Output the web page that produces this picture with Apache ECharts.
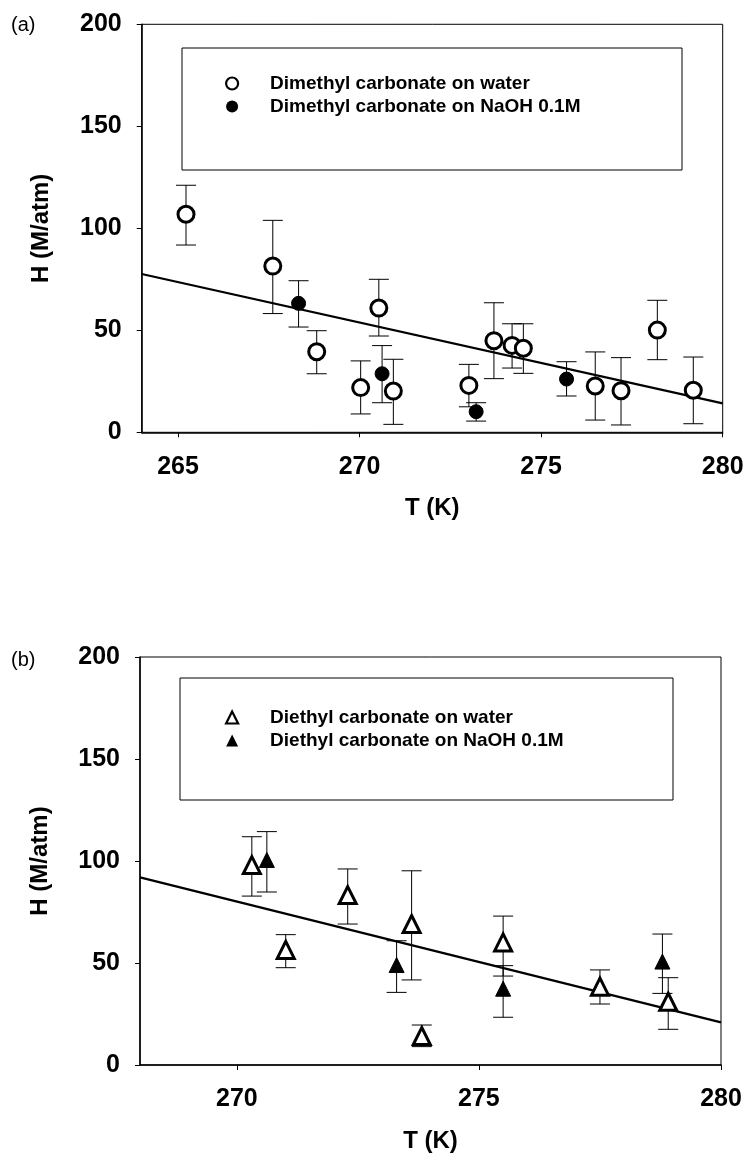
<!DOCTYPE html>
<html><head><meta charset="utf-8">
<script src="https://cdn.jsdelivr.net/npm/echarts@6/dist/echarts.min.js"></script>
<style>html,body{margin:0;padding:0;background:#fff}#c{width:750px;height:1159px}</style>
</head><body><div id="c"></div>
<script>
// ---------- Panel (a): Dimethyl carbonate ----------
const dmcWaterT    = [265.22, 267.61, 268.82, 270.03, 270.53, 270.93, 273.01, 273.70, 274.20, 274.51, 276.49, 277.20, 278.20, 279.19];
const dmcWaterH    = [106.9, 81.5, 39.5, 21.9, 60.9, 20.2, 23.0, 44.9, 42.6, 41.2, 22.7, 20.4, 50.1, 20.6];
const dmcWaterLow  = [91.8, 58.2, 28.7, 9.0, 47.2, 3.9, 12.5, 26.3, 31.5, 28.9, 6.0, 3.6, 35.6, 4.2];
const dmcWaterHigh = [121.1, 103.9, 49.8, 35.0, 75.0, 35.8, 33.3, 63.5, 53.2, 53.2, 39.4, 36.6, 64.7, 36.9];
const dmcNaohT     = [268.32, 270.62, 273.21, 275.70];
const dmcNaohH     = [63.2, 28.7, 10.1, 26.1];
const dmcNaohLow   = [51.6, 14.5, 5.5, 17.8];
const dmcNaohHigh  = [74.3, 42.5, 14.5, 34.6];
const fitAT = [264, 280];
const fitAH = [77.6, 14.2];
// ---------- Panel (b): Diethyl carbonate ----------
const decWaterT    = [270.31, 271.01, 272.29, 273.61, 273.82, 275.50, 277.50, 278.91];
const decWaterH    = [98.0, 56.4, 83.3, 69.1, 14.2, 60.1, 38.4, 31.0];
const decWaterLow  = [82.8, 47.7, 69.1, 41.7, 9.0, 43.6, 29.9, 17.5];
const decWaterHigh = [111.9, 63.9, 96.1, 95.2, 19.6, 73.0, 46.6, 42.8];
const decNaohT     = [270.62, 273.30, 275.50, 278.79];
const decNaohH     = [100.5, 49.0, 37.4, 50.7];
const decNaohLow   = [84.8, 35.6, 23.4, 35.1];
const decNaohHigh  = [114.4, 60.9, 48.7, 64.2];
const fitBT = [268, 280];
const fitBH = [92.0, 20.9];
// ---------- Axes ----------
const yTicks  = [0, 50, 100, 150, 200];
const xTicksA = [265, 270, 275, 280];
const xTicksB = [270, 275, 280];
const namesA = ['Dimethyl carbonate on water', 'Dimethyl carbonate on NaOH 0.1M'];
const namesB = ['Diethyl carbonate on water', 'Diethyl carbonate on NaOH 0.1M'];

const FONT = "'Liberation Sans Narrow', 'Liberation Sans', Arial, sans-serif";
const zip2 = (a, b) => a.map((v, i) => [v, b[i]]);
const zip3 = (a, b, c) => a.map((v, i) => [v, b[i], c[i]]);

function errRender(params, api) {
  const x = api.value(0), lo = api.value(1), hi = api.value(2);
  const pLo = api.coord([x, lo]), pHi = api.coord([x, hi]);
  const w = 10;
  const style = { stroke: '#000', lineWidth: 1 };
  return { type: 'group', children: [
    { type: 'line', shape: { x1: pLo[0], y1: pLo[1], x2: pHi[0], y2: pHi[1] }, style },
    { type: 'line', shape: { x1: pLo[0] - w, y1: pLo[1], x2: pLo[0] + w, y2: pLo[1] }, style },
    { type: 'line', shape: { x1: pHi[0] - w, y1: pHi[1], x2: pHi[0] + w, y2: pHi[1] }, style }
  ]};
}

function xAxis(idx, min, ticks) {
  return {
    type: 'value', gridIndex: idx, min: min, max: 280,
    axisLine: { show: true, lineStyle: { color: '#000', width: 1.5 } },
    axisTick: { show: true, inside: false, length: 5, customValues: ticks, lineStyle: { color: '#000', width: 1 } },
    axisLabel: { customValues: ticks, margin: 22, color: '#000', fontSize: 25, fontWeight: 'bold', fontFamily: FONT },
    splitLine: { show: false },
    name: 'T (K)', nameLocation: 'middle', nameGap: 64,
    nameTextStyle: { color: '#000', fontSize: 24, fontWeight: 'bold', fontFamily: FONT }
  };
}
function yAxis(idx) {
  return {
    type: 'value', gridIndex: idx, min: 0, max: 200, interval: 50,
    axisLine: { show: true, lineStyle: { color: '#000', width: 1.5 } },
    axisTick: { show: true, inside: false, length: 5, lineStyle: { color: '#000', width: 1 } },
    axisLabel: { margin: 20, color: '#000', fontSize: 25, fontWeight: 'bold', fontFamily: FONT },
    splitLine: { show: false },
    name: 'H (M/atm)', nameLocation: 'middle', nameGap: 88,
    nameTextStyle: { color: '#000', fontSize: 24, fontWeight: 'bold', fontFamily: FONT }
  };
}
function errSeries(name, idx, T, lo, hi) {
  return { type: 'custom', name: name, xAxisIndex: idx, yAxisIndex: idx, renderItem: errRender,
    data: zip3(T, lo, hi), z: 2, silent: true, clip: false };
}
function scatter(name, idx, T, H, symbol, size, filled) {
  return { type: 'scatter', name: name, xAxisIndex: idx, yAxisIndex: idx, symbol: symbol, symbolSize: size,
    data: zip2(T, H), z: 4,
    itemStyle: filled ? { color: '#000', borderColor: '#000', borderWidth: 1, opacity: 1 }
                      : { color: '#fff', borderColor: '#000', borderWidth: 3, opacity: 1 } };
}
function fit(idx, T, H) {
  return { type: 'line', xAxisIndex: idx, yAxisIndex: idx, data: zip2(T, H), symbol: 'none', z: 3,
    lineStyle: { color: '#000', width: 2.2 }, silent: true };
}
function legend(names, top, symbols) {
  return {
    orient: 'vertical', left: 220, top: top, itemGap: 4, itemWidth: 12, itemHeight: 12,
    data: [
      { name: names[0], icon: symbols[0], itemStyle: { color: '#fff', borderColor: '#000', borderWidth: 2.2 } },
      { name: names[1], icon: symbols[1], itemStyle: { color: '#000', borderColor: '#000', borderWidth: 0 } }
    ],
    textStyle: { color: '#000', fontSize: 19, fontWeight: 'bold', fontFamily: FONT, padding: [0, 0, 0, 27] },
    selectedMode: false
  };
}

const chart = echarts.init(document.getElementById('c'), null, { renderer: 'canvas' });
chart.setOption({
  animation: false,
  backgroundColor: '#fff',
  title: [
    { text: '(a)', left: 6, top: 10, textStyle: { fontSize: 20, fontWeight: 'normal', color: '#000', fontFamily: "'Liberation Sans', Arial" } },
    { text: '(b)', left: 6, top: 645, textStyle: { fontSize: 20, fontWeight: 'normal', color: '#000', fontFamily: "'Liberation Sans', Arial" } }
  ],
  grid: [
    { left: 141.7, top: 24.3, width: 581, height: 408, show: true, borderColor: '#000', borderWidth: 1, backgroundColor: 'transparent' },
    { left: 140, top: 657, width: 581, height: 408, show: true, borderColor: '#000', borderWidth: 1, backgroundColor: 'transparent' }
  ],
  xAxis: [xAxis(0, 264, xTicksA), xAxis(1, 268, xTicksB)],
  yAxis: [yAxis(0), yAxis(1)],
  legend: [legend(namesA, 69, ['circle', 'circle']), legend(namesB, 703, ['triangle', 'triangle'])],
  graphic: [
    { type: 'rect', shape: { x: 182, y: 48, width: 500, height: 122 }, style: { fill: 'none', stroke: '#000', lineWidth: 1 }, z: 1 },
    { type: 'rect', shape: { x: 180, y: 678, width: 493, height: 122 }, style: { fill: 'none', stroke: '#000', lineWidth: 1 }, z: 1 }
  ],
  series: [
    errSeries(namesA[0], 0, dmcWaterT, dmcWaterLow, dmcWaterHigh),
    errSeries(namesA[1], 0, dmcNaohT, dmcNaohLow, dmcNaohHigh),
    fit(0, fitAT, fitAH),
    scatter(namesA[0], 0, dmcWaterT, dmcWaterH, 'circle', 16, false),
    scatter(namesA[1], 0, dmcNaohT, dmcNaohH, 'circle', 14, true),
    errSeries(namesB[0], 1, decWaterT, decWaterLow, decWaterHigh),
    errSeries(namesB[1], 1, decNaohT, decNaohLow, decNaohHigh),
    fit(1, fitBT, fitBH),
    scatter(namesB[0], 1, decWaterT, decWaterH, 'triangle', 17, false),
    scatter(namesB[1], 1, decNaohT, decNaohH, 'triangle', 15, true)
  ]
});
</script>
</body></html>
